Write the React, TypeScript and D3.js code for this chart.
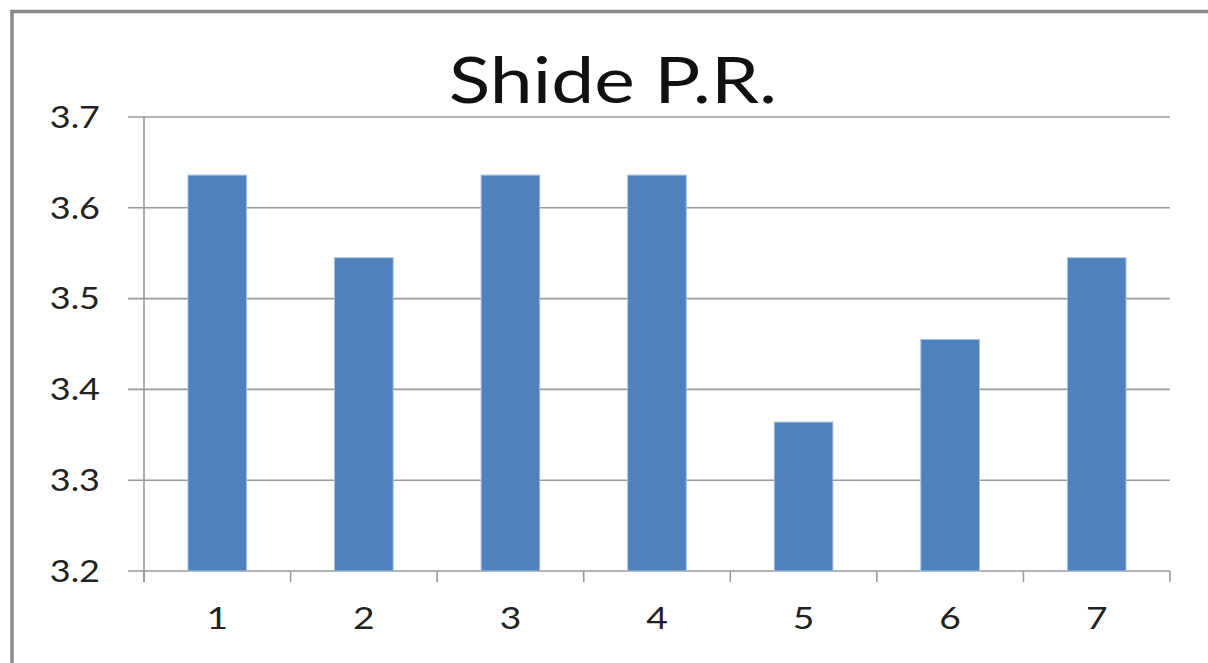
import { useEffect, useRef } from 'react';
import * as d3 from 'd3';

const categories = ['1', '2', '3', '4', '5', '6', '7'];
const values = [3.636, 3.545, 3.636, 3.636, 3.364, 3.455, 3.545];
const yTicks = [3.2, 3.3, 3.4, 3.5, 3.6, 3.7];
const title = 'Shide P.R.';

export default function App() {
    const svgRef = useRef<SVGSVGElement>(null);
    const width = 1208;
    const height = 663;
    const margin = { top: 117, right: 38, bottom: 92, left: 144 };
    // the reference is horizontally stretched, so widen the glyphs a bit
    const stretch = 1.2;

    useEffect(() => {
        if (!svgRef.current) return;
        const svg = d3.select(svgRef.current);
        svg.selectAll('*').remove();

        const font = 'Lato, "Noto Sans", sans-serif';
        const innerW = width - margin.left - margin.right;
        const innerH = height - margin.top - margin.bottom;

        // outer frame
        svg.append('rect')
            .attr('x', 12).attr('y', 11.5)
            .attr('width', 1220).attr('height', 700)
            .attr('fill', 'white')
            .attr('stroke', '#8a8a8a')
            .attr('stroke-width', 3.5);

        const x = d3.scaleBand()
            .domain(categories)
            .range([0, innerW])
            .paddingInner(0.6)
            .paddingOuter(0.3);

        const y = d3.scaleLinear()
            .domain([3.2, 3.7])
            .range([innerH, 0]);

        const g = svg.append('g')
            .attr('transform', `translate(${margin.left},${margin.top})`);

        // gridlines
        g.selectAll('line.grid')
            .data(yTicks)
            .enter().append('line')
            .attr('class', 'grid')
            .attr('x1', -16).attr('x2', innerW)
            .attr('y1', d => y(d)).attr('y2', d => y(d))
            .attr('stroke', '#9a9a9a')
            .attr('stroke-width', 1.6);

        // y labels
        g.selectAll('text.ylab')
            .data(yTicks)
            .enter().append('text')
            .attr('class', 'ylab')
            .attr('transform', d => `translate(-44,${y(d)}) scale(${stretch},1)`)
            .attr('dy', '0.36em')
            .attr('text-anchor', 'end')
            .attr('font-family', font)
            .attr('font-size', 30)
            .attr('fill', '#222')
            .text(d => d.toFixed(1));

        // y axis line
        g.append('line')
            .attr('x1', 0).attr('x2', 0)
            .attr('y1', 0).attr('y2', innerH + 11)
            .attr('stroke', '#9a9a9a')
            .attr('stroke-width', 1.6);

        // x ticks at band boundaries
        const step = x.step();
        const bounds = d3.range(categories.length + 1).map(i => i * step);
        g.selectAll('line.xtick')
            .data(bounds)
            .enter().append('line')
            .attr('class', 'xtick')
            .attr('x1', d => d).attr('x2', d => d)
            .attr('y1', innerH).attr('y2', innerH + 11)
            .attr('stroke', '#9a9a9a')
            .attr('stroke-width', 1.6);

        // bars
        g.selectAll('rect.bar')
            .data(values)
            .enter().append('rect')
            .attr('class', 'bar')
            .attr('x', (_d, i) => x(categories[i])!)
            .attr('y', d => y(d))
            .attr('width', x.bandwidth())
            .attr('height', d => innerH - y(d))
            .attr('fill', '#4f81bd')
            .attr('stroke', '#a9c1e0')
            .attr('stroke-width', 1);

        // x labels
        g.selectAll('text.xlab')
            .data(categories)
            .enter().append('text')
            .attr('class', 'xlab')
            .attr('transform', d => `translate(${x(d)! + x.bandwidth() / 2},${innerH + 58}) scale(${stretch},1)`)
            .attr('text-anchor', 'middle')
            .attr('font-family', font)
            .attr('font-size', 31)
            .attr('fill', '#222')
            .text(d => d);

        // title
        svg.append('text')
            .attr('transform', `translate(613,103) scale(${stretch},1)`)
            .attr('text-anchor', 'middle')
            .attr('font-family', font)
            .attr('font-size', 64)
            .attr('fill', '#111')
            .text(title);
    }, []);

    return (
        <svg
            ref={svgRef}
            width={width}
            height={height}
            style={{ position: 'absolute', left: 0, top: 0, display: 'block' }}
        />
    );
}
